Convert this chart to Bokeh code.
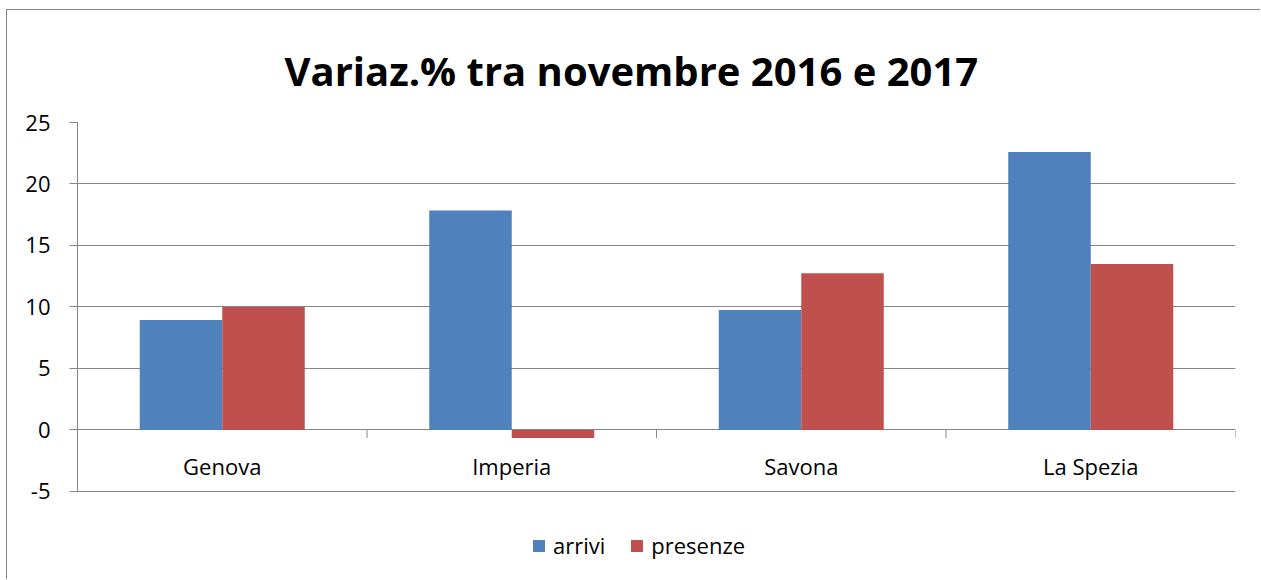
from bokeh.plotting import figure
from bokeh.models import ColumnDataSource, Range1d, Legend, LegendItem, FixedTicker, Title
from bokeh.core.properties import value
from bokeh.embed import file_html
from bokeh.resources import INLINE

categories = ["Genova", "Imperia", "Savona", "La Spezia"]
arrivi = [8.95, 17.85, 9.75, 22.6]
presenze = [10.0, -0.65, 12.75, 13.5]
y_ticks = [-5, 0, 5, 10, 15, 20, 25]
title_text = "Variaz.% tra novembre 2016 e 2017"

BLUE = "#4F81BD"
RED = "#C0504D"
GRID = "#868686"
FONT = "Open Sans"
bw = 0.285

n = len(categories)
centers = [i + 0.5 for i in range(n)]
src = ColumnDataSource(dict(
    xa=[c - bw / 2 for c in centers],
    xp=[c + bw / 2 for c in centers],
    xc=centers,
    ylab=[-2.9] * n,
    cat=categories,
    arrivi=arrivi,
    presenze=presenze,
))
tick_src = ColumnDataSource(dict(x=[float(i) for i in range(1, n + 1)],
                                 y0=[0.0] * n, y1=[-0.65] * n))

# frame extends to the bottom of the canvas so the legend can sit inside it;
# the axis line itself is limited to the -5..25 span
p = figure(width=1254, height=570, x_range=Range1d(0, n), y_range=Range1d(-12.24, 25),
           output_backend="svg", toolbar_location=None,
           min_border_left=70, min_border_right=26, min_border_top=112, min_border_bottom=0)
p.styles = {"margin-left": "6px", "margin-top": "9px",
            "border-left": "1px solid #868686", "border-top": "1px solid #868686"}
p.outline_line_color = None
p.xaxis.visible = False
p.xgrid.visible = False
p.ygrid.grid_line_color = GRID
p.ygrid.grid_line_width = 1
p.yaxis.ticker = FixedTicker(ticks=y_ticks)
p.yaxis.bounds = (-5, 25)
p.yaxis.major_label_overrides = {t: str(t) for t in y_ticks}
p.yaxis.axis_line_color = GRID
p.yaxis.major_tick_line_color = GRID
p.yaxis.major_tick_out = 8
p.yaxis.major_tick_in = 0
p.yaxis.minor_tick_line_color = None
p.yaxis.major_label_standoff = 19
p.yaxis.major_label_text_font = FONT
p.yaxis.major_label_text_font_size = "22px"
p.yaxis.major_label_text_color = "black"

r1 = p.vbar(x="xa", top="arrivi", bottom=0, width=bw, source=src,
            fill_color=BLUE, line_color=None)
r2 = p.vbar(x="xp", top="presenze", bottom=0, width=bw, source=src,
            fill_color=RED, line_color=None)
p.segment(x0="x", y0="y0", x1="x", y1="y1", source=tick_src, line_color=GRID, line_width=1)
p.text(x="xc", y="ylab", text="cat", source=src, text_align="center",
       text_baseline="middle", text_font=value(FONT), text_font_size="22px",
       text_color="black")

t = Title(text=title_text, align="left", text_font=FONT, text_font_size="40px",
          text_font_style="bold", text_color="black", standoff=50, offset=207)
p.add_layout(t, "above")

legend = Legend(items=[LegendItem(label="arrivi", renderers=[r1]),
                       LegendItem(label="presenze", renderers=[r2])],
                orientation="horizontal", location=(454, 20),
                glyph_width=15, glyph_height=15, label_standoff=7, spacing=24,
                label_text_font=FONT, label_text_font_size="22px",
                label_text_color="black",
                border_line_color=None, background_fill_alpha=0,
                padding=0, margin=0)
p.add_layout(legend)

open("out.html", "w").write(file_html(p, INLINE))
